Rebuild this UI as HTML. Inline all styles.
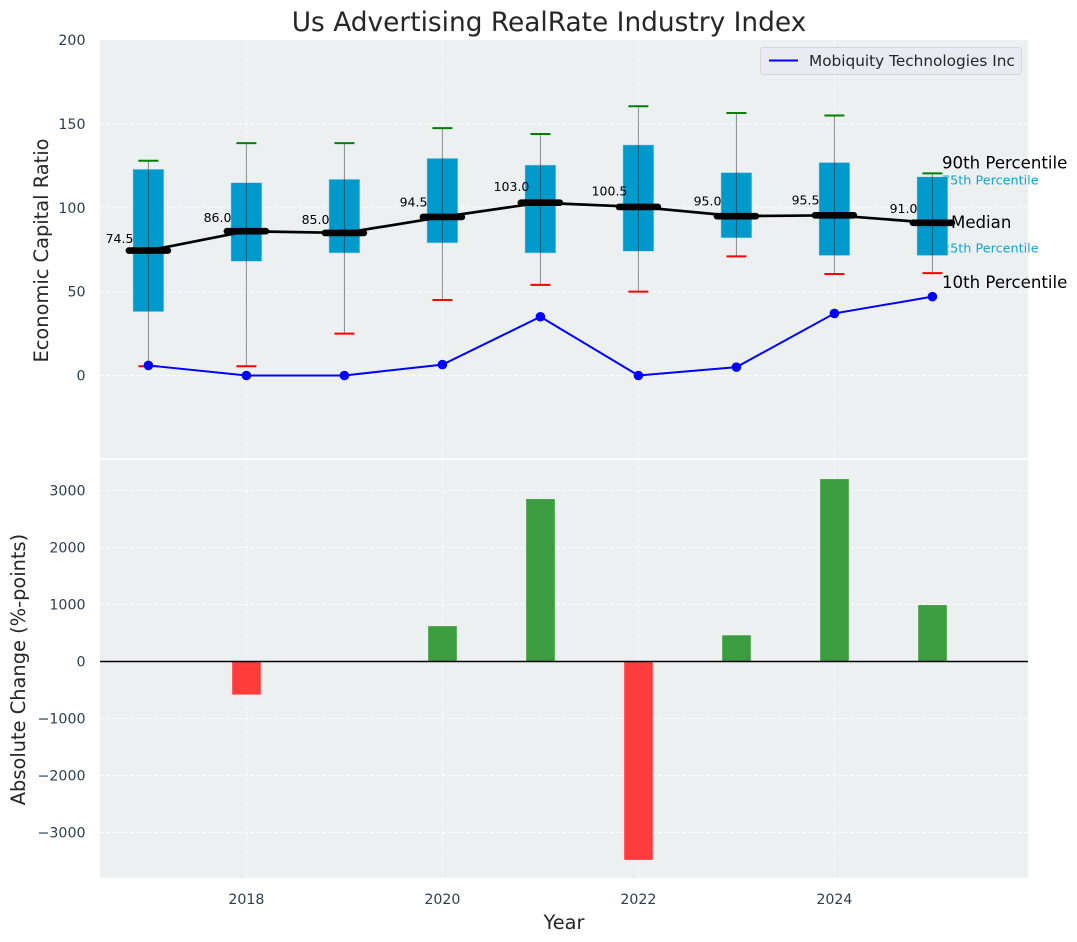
<!DOCTYPE html>
<html>
<head>
<meta charset="utf-8">
<title>Us Advertising RealRate Industry Index</title>
<style>
html,body{margin:0;padding:0;background:#fff;}
svg{display:block;font-family:"DejaVu Sans","Liberation Sans",sans-serif;}
</style>
</head>
<body>
<svg id="chart" width="1077" height="942" viewBox="0 0 1077 942"></svg>
<script>
const years = [2017, 2018, 2019, 2020, 2021, 2022, 2023, 2024, 2025];
const p90 = [128, 138.5, 138.5, 147.5, 144, 160.5, 156.5, 155, 120.5];
const q3 = [123, 115, 117, 129.5, 125.5, 137.5, 121, 127, 118.5];
const medians = [74.5, 86, 85, 94.5, 103, 100.5, 95, 95.5, 91];
const q1 = [38, 68, 73, 79, 73, 74, 82, 71.5, 71.5];
const p10 = [5.5, 5.5, 25, 45, 54, 50, 71, 60.5, 61];
const company = [6, 0, 0, 6.5, 35, 0, 5, 37, 47];
const changes = [0, -580, 0, 620, 2850, -3480, 460, 3200, 990];
const xTicks = [2018, 2020, 2022, 2024];
const topTicks = [0, 50, 100, 150, 200];
const bottomTicks = [-3000, -2000, -1000, 0, 1000, 2000, 3000];

const svg = document.getElementById('chart');
const NS = 'http://www.w3.org/2000/svg';
const X = v => 246.4 + (v - 2018) * 98;
const YT = v => 375.5 - v * 1.6775;
const YB = v => 661.5 - v * 0.057;
const L = 100, R = 1028, TT = 40, TB = 458.3, BT = 460, BB = 878;

function mk(tag, attrs, text) {
  const el = document.createElementNS(NS, tag);
  for (const k in attrs) el.setAttribute(k, attrs[k]);
  if (text !== undefined) el.textContent = text;
  svg.appendChild(el);
  return el;
}
function fmtTick(v) { return v < 0 ? '\u2212' + Math.abs(v) : String(v); }
function fmtVal(v) { return v.toFixed(1); }

let e;
e = mk('rect', {x: L, y: TT, width: R - L, height: TB - TT, fill: '#ecf0f1'});


e = mk('rect', {x: L, y: BT, width: R - L, height: BB - BT, fill: '#ecf0f1'});



const gridStyle = {stroke: '#ffffff', 'stroke-width': 1, 'stroke-dasharray': '4 2', opacity: 0.85};
xTicks.forEach(t => {
  e = mk('line', {x1: X(t), x2: X(t), y1: TT, y2: TB, ...gridStyle});
  
  
  e = mk('line', {x1: X(t), x2: X(t), y1: BT, y2: BB, ...gridStyle});
  
  
  e = mk('text', {x: X(t), y: 904, 'text-anchor': 'middle', 'font-size': 14.2, fill: '#2c3e50'}, String(t));
  
  
});
topTicks.forEach(t => {
  if (t !== 200) {
    e = mk('line', {x1: L, x2: R, y1: YT(t), y2: YT(t), ...gridStyle});
    
    
  }
  e = mk('text', {x: 85.5, y: YT(t) + 5, 'text-anchor': 'end', 'font-size': 14.2, fill: '#2c3e50'}, fmtTick(t));
  
  
});
bottomTicks.forEach(t => {
  e = mk('line', {x1: L, x2: R, y1: YB(t), y2: YB(t), ...gridStyle});
  
  
  e = mk('text', {x: 85.5, y: YB(t) + 5, 'text-anchor': 'end', 'font-size': 14.2, fill: '#2c3e50'}, fmtTick(t));
  
  
});

// Annotations that sit behind the last box
const lastIdx = years.length - 1;
e = mk('text', {x: 942, y: YT(q3[lastIdx]) + 8, 'font-size': 12.8, fill: '#0099cc', opacity: 0.9}, '75th Percentile');


e = mk('text', {x: 942, y: YT(q1[lastIdx]) - 3, 'font-size': 12.8, fill: '#0099cc', opacity: 0.9}, '25th Percentile');



// Boxes
years.forEach((yr, i) => {
  const x = X(yr);
  e = mk('rect', {x: x - 15.5, y: YT(q3[i]), width: 31, height: YT(q1[i]) - YT(q3[i]), fill: '#0099cc', stroke: '#bfe3ef', 'stroke-width': 0.6});
  
  
});
// Median trend line
e = mk('polyline', {points: years.map((yr, i) => X(yr) + ',' + YT(medians[i])).join(' '), fill: 'none', stroke: '#000', 'stroke-width': 2.7});


// Whiskers, caps, median marks, value labels
years.forEach((yr, i) => {
  const x = X(yr);
  e = mk('line', {x1: x, x2: x, y1: YT(p90[i]), y2: YT(p10[i]), stroke: '#222', 'stroke-width': 1, opacity: 0.5});
  
  
  e = mk('line', {x1: x - 10, x2: x + 10, y1: YT(p90[i]), y2: YT(p90[i]), stroke: '#008000', 'stroke-width': 2});
  
  
  e = mk('line', {x1: x - 10, x2: x + 10, y1: YT(p10[i]), y2: YT(p10[i]), stroke: '#ff0000', 'stroke-width': 2});
  
  
  e = mk('line', {x1: x - 19.5, x2: x + 19.5, y1: YT(medians[i]), y2: YT(medians[i]), stroke: '#000', 'stroke-width': 6.6, 'stroke-linecap': 'round'});
  
  
  e = mk('text', {x: x - 28.9, y: YT(medians[i] * 1.095) + 4.5, 'text-anchor': 'middle', 'font-size': 12.5, fill: '#000'}, fmtVal(medians[i]));
  
  
});
// Company line
e = mk('polyline', {points: years.map((yr, i) => X(yr) + ',' + YT(company[i])).join(' '), fill: 'none', stroke: '#0000ff', 'stroke-width': 2});


years.forEach((yr, i) => {
  e = mk('circle', {cx: X(yr), cy: YT(company[i]), r: 4.8, fill: '#0000ff'});
  
  
});
// Percentile annotations
e = mk('text', {x: 942, y: YT(p90[lastIdx]) - 5, 'font-size': 16.6, fill: '#000'}, '90th Percentile');


e = mk('text', {x: 951, y: YT(medians[lastIdx]) + 5, 'font-size': 16.6, fill: '#000'}, 'Median');


e = mk('text', {x: 942, y: YT(p10[lastIdx]) + 15, 'font-size': 16.6, fill: '#000'}, '10th Percentile');



// Change bars
years.forEach((yr, i) => {
  const v = changes[i];
  if (v === 0) return;
  const y0 = Math.min(YB(0), YB(v));
  e = mk('rect', {x: X(yr) - 14.2, y: y0, width: 28.6, height: Math.abs(YB(v) - YB(0)), fill: v > 0 ? '#3b9d3f' : '#ff3c3c'});
  
  
});
e = mk('line', {x1: L, x2: R, y1: YB(0), y2: YB(0), stroke: '#000', 'stroke-width': 1.5});



// Legend
e = mk('rect', {x: 760.5, y: 47.5, width: 261, height: 27, rx: 3, fill: '#eaeaf2', stroke: '#d5d5d8', 'stroke-width': 1});


e = mk('line', {x1: 769, x2: 798, y1: 60.5, y2: 60.5, stroke: '#0000ff', 'stroke-width': 2});


e = mk('text', {x: 809, y: 66, 'font-size': 15.3, fill: '#262626'}, 'Mobiquity Technologies Inc');



// Titles
e = mk('text', {x: 549, y: 31, 'text-anchor': 'middle', 'font-size': 26.4, fill: '#262626'}, 'Us Advertising RealRate Industry Index');


e = mk('text', {x: 564, y: 929, 'text-anchor': 'middle', 'font-size': 19.4, fill: '#262626'}, 'Year');


e = mk('text', {transform: 'translate(48,250.5) rotate(-90)', 'text-anchor': 'middle', 'font-size': 19.4, fill: '#262626'}, 'Economic Capital Ratio');


e = mk('text', {transform: 'translate(25,669.5) rotate(-90)', 'text-anchor': 'middle', 'font-size': 19.4, fill: '#262626'}, 'Absolute Change (%-points)');


</script>
</body>
</html>
